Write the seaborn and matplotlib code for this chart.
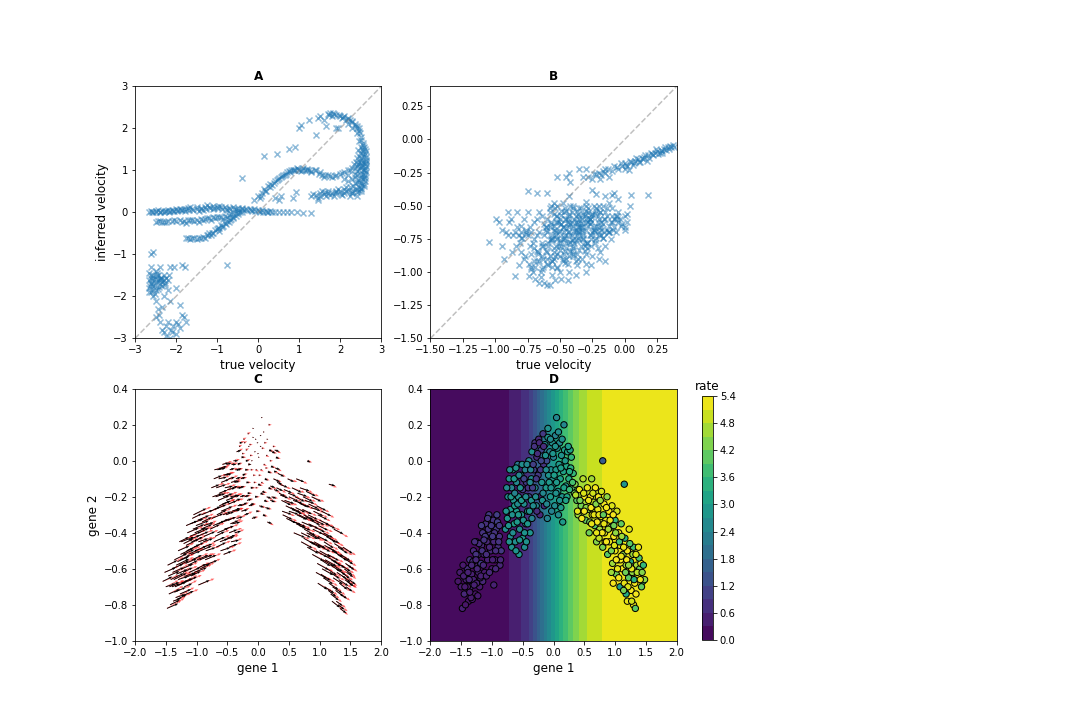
import numpy as np
import matplotlib.pyplot as plt
import seaborn as sns

# ---------------- Panel A: true vs inferred velocity ----------------
a_true = [
    # upper flat streak
    -2.65, -2.60, -2.55, -2.50, -2.45, -2.40, -2.35, -2.30, -2.25, -2.20,
    -2.15, -2.10, -2.05, -2.00, -1.95, -1.90, -1.85, -1.80, -1.75, -1.70,
    -1.60, -1.50, -1.40, -1.30, -1.25, -1.20, -1.10, -1.00, -0.95, -0.90,
    -0.80, -0.70, -0.60, -0.50, -0.40, -0.30, -0.20, -0.10, 0.00, 0.10,
    0.20, 0.30, 0.40, 0.50, 0.60, 0.70, 0.80, 0.95, 1.10, 1.30,
    -1.45, -1.35, -0.75, -0.55, -0.35, -0.15, 0.05, 0.25, -1.65, -1.10,
    -2.58, -2.48, -2.38, -2.28, -2.18, -2.08, -1.98, -1.88, -1.78, -1.68,
    -1.58, -1.48, -1.38, -1.28, -1.18, -1.08, -0.98, -0.88, -0.78, -0.68,
    -0.58, -0.48, -0.38, -0.28, -0.18, -0.08, 0.02, 0.12, 0.22, 0.35,
    # second streak
    -2.50, -2.40, -2.30, -2.20, -2.10, -2.00, -1.90, -1.80, -1.70, -1.60,
    -1.50, -1.40, -1.30, -1.20, -1.10, -1.00, -0.90, -0.80, -0.70, -0.60,
    -0.50, -0.40, -1.75, -1.45, -1.15, -0.85,
    -2.45, -2.25, -2.05, -1.85, -1.65, -1.55, -1.35, -1.25, -1.05, -0.95,
    -0.75, -0.65, -0.55, -0.45, -2.35,
    # third streak
    -1.75, -1.65, -1.55, -1.45, -1.35, -1.30, -1.25, -1.20, -1.10, -1.05,
    -1.00, -0.95, -0.90, -0.85, -0.80, -0.75, -0.70, -0.65, -0.60, -0.55,
    -1.15, -0.95,
    -1.70, -1.60, -1.50, -1.40, -1.22, -1.12, -0.98, -0.88, -0.78, -0.68,
    -0.62, -0.50,
    # rising branch
    -0.10, 0.00, 0.05, 0.10, 0.15, 0.20, 0.25, 0.30, 0.35, 0.40,
    0.45, 0.50, 0.55, 0.60, 0.65, 0.70, 0.75, 0.80, 0.85, 0.90,
    0.95, 1.00, 1.05, 1.10, 1.15, 1.20, 1.25, 1.30, 1.40, 1.50,
    1.55, 1.60, 1.70, 1.80, 1.90, 2.00, 2.10, 2.20, 2.30, 0.40,
    0.50, 0.85, 0.92, 0.55,
    0.08, 0.18, 0.28, 0.38, 0.48, 0.58, 0.68, 0.78, 0.88, 0.98,
    1.08, 1.18, 1.28, 1.38, 1.48, 1.62, 1.75, 1.88, 2.05, 2.25,
    # right cluster
    2.45, 2.50, 2.55, 2.60, 2.55, 2.60, 2.50, 2.60, 2.55, 2.62,
    2.50, 2.58, 2.55, 2.60, 2.50, 2.45, 2.40, 2.35, 2.40, 2.30,
    2.35, 2.20, 2.25, 2.40, 2.62, 2.64, 2.60, 2.50, 2.45, 2.55,
    2.40, 2.20, 2.10,
    2.58, 2.52, 2.62, 2.48, 2.56, 2.44, 2.60, 2.52, 2.38, 2.64,
    2.53, 2.57, 2.61, 2.47, 2.51, 2.55, 2.59, 2.63, 2.42, 2.36,
    2.49, 2.57, 2.53, 2.61, 2.45,
    2.32, 2.36, 2.42, 2.46, 2.52, 2.58, 2.34, 2.44, 2.54, 2.62,
    # lower right streak
    1.30, 1.40, 1.50, 1.60, 1.70, 1.80, 1.90, 2.00, 2.10, 2.20,
    2.30, 2.40, 2.50, 1.45, 1.65, 1.85, 2.05, 2.25, 1.55, 1.95,
    2.15, 1.45, 2.40,
    1.35, 1.52, 1.62, 1.75, 1.88, 2.02, 2.15, 2.28, 2.35, 2.45,
    1.70, 1.90, 2.10, 2.30, 2.50,
    # upper arch
    2.55, 2.50, 2.48, 2.45, 2.40, 2.35, 2.30, 2.25, 2.20, 2.15,
    2.10, 2.00, 1.90, 1.85, 1.80, 1.75, 1.70, 2.30, 2.40, 2.05,
    1.95, 2.20, 2.45,
    2.52, 2.47, 2.42, 2.28, 2.18, 2.08, 1.98, 1.82, 1.72, 2.35,
    # scattered
    1.00, 1.05, 1.25, 1.45, 1.40, 1.60, 1.65, 0.15, 0.45, 0.75,
    0.90, -0.40, -0.75, 1.50, 1.90,
    # lower left cluster
    -2.60, -2.55, -2.65, -2.60, -2.65, -2.60, -2.65, -2.60, -2.55, -2.50,
    -2.55, -2.50, -2.45, -2.40, -2.45, -2.40, -2.35, -2.30, -2.35, -2.30,
    -2.25, -2.20, -2.50, -2.60, -2.40, -2.15, -2.05, -1.85, -1.78, -2.55,
    -2.50, -2.45, -2.35, -2.50, -2.40, -2.35, -2.25, -2.15, -2.20, -2.10,
    -2.00, -2.00, -1.90, -1.85, -1.80, -1.75, -1.90, -2.00, -2.30, -2.25,
    -2.15, -2.65, -2.20,
    -2.62, -2.58, -2.52, -2.48, -2.42, -2.38, -2.62, -2.56, -2.46, -2.36,
    -2.28, -2.52,
    -2.63, -2.57, -2.47, -2.43, -2.33, -2.27, -2.18, -2.12, -1.95, -2.42,
    -2.30, -2.08,
]
a_inferred = [
    0.02, 0.04, 0.01, 0.03, 0.05, 0.02, 0.04, 0.01, 0.03, 0.05,
    0.03, 0.06, 0.04, 0.07, 0.05, 0.08, 0.06, 0.09, 0.07, 0.10,
    0.09, 0.12, 0.11, 0.14, 0.18, 0.12, 0.15, 0.13, 0.16, 0.12,
    0.14, 0.11, 0.12, 0.10, 0.11, 0.08, 0.09, 0.07, 0.06, 0.05,
    0.04, 0.03, 0.02, 0.02, 0.01, 0.00, 0.00, 0.00, -0.01, -0.01,
    0.04, 0.05, 0.06, 0.07, 0.05, 0.04, 0.02, 0.00, 0.12, 0.08,
    0.00, 0.02, 0.00, 0.03, 0.02, 0.04, 0.03, 0.05, 0.04, 0.06,
    0.05, 0.08, 0.07, 0.09, 0.10, 0.11, 0.10, 0.09, 0.08, 0.08,
    0.07, 0.06, 0.07, 0.05, 0.05, 0.04, 0.03, 0.02, 0.02, 0.01,
    -0.22, -0.20, -0.23, -0.20, -0.21, -0.20, -0.18, -0.20, -0.19, -0.17,
    -0.18, -0.16, -0.15, -0.14, -0.12, -0.12, -0.10, -0.08, -0.06, -0.03,
    0.00, 0.02, -0.25, -0.22, -0.18, -0.15,
    -0.20, -0.22, -0.18, -0.22, -0.18, -0.20, -0.17, -0.13, -0.14, -0.10,
    -0.10, -0.04, -0.02, 0.00, -0.24,
    -0.62, -0.63, -0.60, -0.62, -0.58, -0.60, -0.55, -0.50, -0.48, -0.42,
    -0.40, -0.36, -0.30, -0.32, -0.25, -0.20, -0.22, -0.15, -0.12, -0.08,
    -0.55, -0.45,
    -0.60, -0.62, -0.64, -0.60, -0.53, -0.50, -0.38, -0.34, -0.28, -0.18,
    -0.14, -0.04,
    0.30, 0.38, 0.35, 0.45, 0.55, 0.50, 0.62, 0.68, 0.65, 0.75,
    0.78, 0.82, 0.85, 0.90, 0.88, 0.95, 0.98, 1.00, 1.02, 1.00,
    1.05, 1.02, 0.98, 1.05, 1.00, 1.03, 1.00, 0.98, 1.02, 0.95,
    0.88, 0.85, 0.88, 0.85, 0.90, 0.92, 0.95, 1.00, 1.05, 0.35,
    0.30, 0.35, 0.48, 0.40,
    0.40, 0.52, 0.60, 0.70, 0.80, 0.86, 0.92, 0.96, 1.00, 1.03,
    1.00, 1.02, 0.97, 1.00, 0.92, 0.88, 0.86, 0.87, 0.93, 1.02,
    0.60, 0.70, 0.80, 0.90, 1.00, 1.05, 1.10, 1.15, 1.20, 1.25,
    1.30, 1.35, 1.45, 1.50, 1.55, 1.00, 1.10, 1.05, 0.90, 0.80,
    0.70, 0.75, 0.60, 0.55, 1.10, 0.95, 0.75, 0.90, 1.20, 1.60,
    1.30, 0.90, 0.80,
    1.02, 1.18, 1.32, 1.05, 0.92, 1.15, 1.40, 0.85, 1.20, 1.18,
    0.65, 0.85, 1.00, 0.78, 1.25, 1.38, 0.68, 1.22, 0.98, 0.92,
    1.42, 1.55, 1.12, 0.82, 0.72,
    0.62, 0.85, 0.72, 1.35, 0.55, 0.62, 1.15, 1.48, 1.52, 1.45,
    0.40, 0.42, 0.45, 0.43, 0.47, 0.45, 0.48, 0.50, 0.47, 0.50,
    0.52, 0.48, 0.50, 0.35, 0.38, 0.40, 0.42, 0.40, 0.52, 0.55,
    0.60, 0.30, 0.40,
    0.44, 0.40, 0.48, 0.42, 0.46, 0.44, 0.52, 0.46, 0.56, 0.52,
    0.52, 0.50, 0.55, 0.45, 0.58,
    1.65, 1.80, 1.90, 2.00, 2.05, 2.10, 2.15, 2.20, 2.25, 2.20,
    2.30, 2.30, 2.33, 2.35, 2.30, 2.37, 2.35, 2.00, 1.90, 2.25,
    2.00, 2.10, 1.70,
    1.72, 1.95, 2.02, 2.18, 2.22, 2.28, 2.32, 2.36, 2.32, 2.05,
    2.00, 2.08, 2.20, 2.25, 1.85, 2.20, 2.05, 1.35, 1.40, 1.52,
    1.55, 0.82, -1.25, 2.30, 2.00,
    -1.00, -0.95, -1.45, -1.50, -1.60, -1.70, -1.80, -1.90, -1.55, -1.65,
    -1.75, -1.85, -1.60, -1.70, -1.50, -1.55, -1.65, -1.60, -1.75, -1.50,
    -1.55, -1.60, -1.40, -1.30, -1.30, -1.30, -1.30, -1.25, -1.30, -2.00,
    -2.10, -2.30, -2.25, -2.50, -2.60, -2.80, -2.70, -2.10, -2.60, -2.85,
    -2.90, -2.60, -2.75, -2.45, -2.50, -2.60, -2.20, -1.80, -2.00, -2.95,
    -3.00, -1.90, -1.85,
    -1.55, -1.62, -1.72, -1.58, -1.78, -1.62, -1.68, -1.85, -1.45, -1.55,
    -1.68, -1.95,
    -1.75, -1.48, -1.52, -1.82, -1.58, -1.72, -1.48, -2.80, -2.65, -2.45,
    -2.85, -2.70,
]

# ---------------- Panel B: true vs inferred velocity ----------------
b_true = [
    # upper band
    -0.28, -0.25, -0.20, -0.18, -0.15, -0.12, -0.08, -0.05, -0.02, 0.00,
    0.02, 0.05, 0.08, 0.10, 0.12, 0.15, 0.18, 0.20, 0.22, 0.25,
    0.28, 0.30, 0.32, 0.35, 0.37, 0.38, 0.27, 0.13, -0.10, 0.00,
    0.06, 0.33, 0.24, -0.15,
    -0.22, -0.17, -0.13, -0.06, -0.03, 0.01, 0.04, 0.07, 0.09, 0.11,
    0.14, 0.16, 0.19, 0.21, 0.23, 0.26, 0.29, 0.31, 0.34, 0.36,
    -0.19, 0.03, 0.17, 0.29, -0.24,
    # scattered
    -0.45, -0.43, -0.42, -0.35, -0.32, -0.30, -0.52, -0.60, -0.68, -0.75,
    -0.43, -0.25, -0.22, -0.15, -0.10, -0.05, 0.05, 0.18, -0.08, -0.30,
    -0.55,
    # main cloud
    -1.05, -0.97, -0.95, -0.93, -0.90, -0.88, -0.87, -0.85, -0.83, -0.82,
    -0.80, -0.80, -0.78, -0.77, -0.76, -0.75, -0.74, -0.73, -0.72, -0.70,
    -0.70, -0.69, -0.68, -0.67, -0.66, -0.65, -0.64, -0.63, -0.62, -0.61,
    -0.60, -0.60, -0.59, -0.58, -0.57, -0.56, -0.55, -0.55, -0.54, -0.53,
    -0.52, -0.51, -0.50, -0.50, -0.49, -0.48, -0.47, -0.46, -0.45, -0.45,
    -0.44, -0.43, -0.42, -0.41, -0.40, -0.40, -0.39, -0.38, -0.37, -0.36,
    -0.35, -0.35, -0.34, -0.33, -0.32, -0.31, -0.30, -0.30, -0.29, -0.28,
    -0.27, -0.26, -0.25, -0.24, -0.23, -0.22, -0.21, -0.20, -0.19, -0.18,
    -0.17, -0.16, -0.15, -0.14, -0.12, -0.11, -0.10, -0.08, -0.07, -0.05,
    -0.03, 0.00, 0.02, 0.04, -0.62, -0.58, -0.53, -0.48, -0.43, -0.38,
    -0.33, -0.28, -0.46, -0.41, -0.36, -0.52, -0.56, -0.66, -0.70, -0.75,
    -0.80, -0.64, -0.60, -0.55, -0.50, -0.45, -0.40, -0.35, -0.30, -0.25,
    -0.20, -0.66, -0.60, -0.54, -0.50, -0.72, -0.82, -0.85, -0.90, -0.95,
    -0.99, -0.57, -0.48, -0.42, -0.30, -0.12, -0.20, -0.26, -0.15, -0.38,
    -0.44,
    -0.64, -0.61, -0.58, -0.56, -0.53, -0.51, -0.49, -0.47, -0.44, -0.42,
    -0.39, -0.37, -0.34, -0.32, -0.29, -0.27, -0.24, -0.22, -0.19, -0.17,
    -0.63, -0.60, -0.57, -0.54, -0.52, -0.49, -0.46, -0.43, -0.41, -0.38,
    -0.36, -0.33, -0.31, -0.28, -0.26, -0.23, -0.21, -0.18, -0.16, -0.13,
    -0.62, -0.59, -0.56, -0.53, -0.50, -0.47, -0.44, -0.41, -0.38, -0.35,
    -0.32, -0.29, -0.26, -0.23, -0.20, -0.17, -0.14, -0.11, -0.09, -0.06,
    -0.86, -0.83, -0.79, -0.76, -0.73, -0.71, -0.68, -0.84, -0.78, -0.72,
    -0.92, -0.89, -0.81, -0.74, -0.69, -0.66, -0.71, -0.68, -0.65, -0.63,
    -0.59, -0.56, -0.52, -0.48, -0.45, -0.42, -0.38, -0.35, -0.31, -0.27,
    -0.45, -0.40, -0.35, -0.30, -0.25, -0.20, -0.15, -0.10, -0.05, 0.00,
    -0.50, -0.44, -0.37, -0.33, -0.27, -0.22, -0.58, -0.52, -0.46, -0.40,
    -0.61, -0.55, -0.49, -0.43, -0.36, -0.32, -0.24, -0.18, -0.12, -0.07,
    # dense core
    -0.58, -0.55, -0.52, -0.49, -0.46, -0.43, -0.40, -0.37, -0.34, -0.31,
    -0.28, -0.25, -0.22, -0.19, -0.57, -0.54, -0.51, -0.48, -0.45, -0.42,
    -0.39, -0.36, -0.33, -0.30, -0.27, -0.24, -0.21, -0.18, -0.15, -0.56,
    -0.53, -0.50, -0.47, -0.44, -0.41, -0.38, -0.35, -0.32, -0.29, -0.26,
    -0.23, -0.20, -0.17, -0.14, -0.70, -0.67, -0.64, -0.61, -0.58, -0.55,
    -0.52, -0.49, -0.46, -0.43, -0.40, -0.37, -0.34, -0.31, -0.80, -0.76,
    -0.72, -0.68, -0.64, -0.60, -0.56, -0.52, -0.48, -0.44, -0.40, -0.36,
    -0.10, -0.06, -0.02, 0.02, -0.12, -0.08, -0.04, 0.00, -0.30, -0.26,
]
b_inferred = [
    -0.28, -0.30, -0.25, -0.27, -0.25, -0.28, -0.20, -0.22, -0.20, -0.18,
    -0.20, -0.17, -0.16, -0.15, -0.17, -0.13, -0.12, -0.10, -0.12, -0.09,
    -0.08, -0.07, -0.08, -0.05, -0.04, -0.06, -0.10, -0.14, -0.24, -0.22,
    -0.19, -0.06, -0.07, -0.22,
    -0.26, -0.24, -0.22, -0.21, -0.18, -0.19, -0.16, -0.18, -0.14, -0.17,
    -0.15, -0.12, -0.14, -0.11, -0.10, -0.11, -0.09, -0.06, -0.07, -0.06,
    -0.30, -0.23, -0.16, -0.10, -0.26,
    -0.28, -0.25, -0.32, -0.22, -0.28, -0.22, -0.28, -0.40, -0.40, -0.39,
    -0.43, -0.38, -0.41, -0.43, -0.42, -0.45, -0.42, -0.42, -0.40, -0.47,
    -0.48,
    -0.77, -0.62, -0.68, -0.90, -0.72, -0.60, -0.85, -0.70, -0.55, -0.72,
    -0.85, -0.65, -0.60, -0.88, -0.71, -0.55, -1.03, -0.80, -0.70, -0.62,
    -0.92, -1.05, -0.72, -0.85, -0.55, -1.00, -0.78, -0.90, -1.08, -0.68,
    -0.60, -0.85, -0.95, -1.10, -0.75, -1.02, -0.65, -0.90, -0.52, -0.80,
    -0.97, -0.70, -0.60, -0.88, -1.05, -0.75, -0.55, -0.93, -0.67, -0.82,
    -0.60, -1.00, -0.72, -0.55, -0.88, -0.65, -0.78, -0.58, -0.95, -0.70,
    -0.83, -0.52, -0.63, -0.90, -0.75, -0.58, -0.68, -1.00, -0.82, -0.55,
    -0.72, -0.62, -0.88, -0.50, -0.78, -0.65, -0.58, -0.72, -0.85, -0.62,
    -0.50, -0.70, -0.80, -0.58, -0.65, -0.75, -0.52, -0.60, -0.70, -0.55,
    -0.65, -0.58, -0.62, -0.50, -0.72, -0.66, -0.70, -0.66, -0.70, -0.68,
    -0.60, -0.65, -0.60, -0.62, -0.56, -0.62, -0.72, -0.70, -0.75, -0.72,
    -0.70, -0.88, -0.90, -0.85, -0.83, -0.90, -0.80, -0.76, -0.86, -0.70,
    -0.60, -1.08, -1.10, -1.06, -1.00, -0.98, -0.95, -1.03, -0.55, -0.80,
    -0.60, -0.50, -0.48, -0.50, -0.50, -0.48, -0.90, -0.95, -0.92, -1.02,
    -1.06,
    -0.58, -0.66, -0.55, -0.74, -0.62, -0.80, -0.57, -0.70, -0.64, -0.77,
    -0.60, -0.72, -0.66, -0.56, -0.78, -0.60, -0.66, -0.74, -0.55, -0.64,
    -0.80, -0.70, -0.62, -0.88, -0.75, -0.64, -0.72, -0.58, -0.84, -0.62,
    -0.74, -0.68, -0.80, -0.62, -0.58, -0.70, -0.82, -0.68, -0.60, -0.70,
    -0.64, -0.78, -0.92, -0.58, -0.69, -0.86, -0.62, -0.76, -0.70, -0.60,
    -0.72, -0.62, -0.75, -0.56, -0.66, -0.74, -0.52, -0.62, -0.68, -0.60,
    -0.72, -0.66, -0.74, -0.68, -0.66, -0.78, -0.60, -0.80, -0.90, -0.86,
    -0.70, -0.62, -0.78, -0.94, -0.96, -0.92, -1.00, -0.84, -1.04, -0.96,
    -0.80, -0.96, -0.74, -0.92, -0.78, -0.84, -0.92, -0.66, -0.78, -0.60,
    -0.54, -0.52, -0.58, -0.54, -0.56, -0.50, -0.55, -0.58, -0.62, -0.66,
    -0.76, -0.70, -0.64, -0.70, -0.60, -0.54, -0.76, -0.58, -0.74, -0.76,
    -0.66, -0.68, -0.64, -0.66, -0.66, -0.64, -0.68, -0.72, -0.70, -0.58,
    -0.52, -0.56, -0.50, -0.54, -0.52, -0.56, -0.50, -0.54, -0.52, -0.56,
    -0.52, -0.56, -0.52, -0.55, -0.64, -0.68, -0.62, -0.66, -0.60, -0.64,
    -0.68, -0.62, -0.66, -0.60, -0.64, -0.68, -0.62, -0.66, -0.60, -0.76,
    -0.72, -0.78, -0.74, -0.78, -0.72, -0.76, -0.70, -0.74, -0.78, -0.72,
    -0.76, -0.70, -0.74, -0.68, -0.82, -0.86, -0.80, -0.84, -0.88, -0.82,
    -0.86, -0.80, -0.84, -0.88, -0.82, -0.86, -0.80, -0.84, -0.74, -0.70,
    -0.96, -0.92, -0.98, -0.94, -0.92, -0.96, -0.90, -0.94, -0.86, -0.90,
    -0.62, -0.58, -0.64, -0.56, -0.70, -0.66, -0.60, -0.68, -0.94, -0.80,
]

# ---------------- Panels C / D: cells in gene space ----------------
gene1 = [
    # left branch
    -1.48, -1.55, -1.50, -1.45, -1.42, -1.40, -1.47, -1.38, -1.35, -1.33,
    -1.36, -1.30, -1.28, -1.30, -1.27, -1.25, -1.22, -1.22, -1.20, -1.18,
    -1.17, -1.15, -1.13, -1.12, -1.10, -1.08, -1.07, -1.05, -1.03, -1.02,
    -1.00, -0.98, -0.97, -0.95, -0.93, -0.92, -0.90, -0.88, -0.87, -0.85,
    -1.32, -1.25, -1.40, -1.15, -0.97,
    # middle cluster
    -0.78, -0.75, -0.74, -0.72, -0.70, -0.70, -0.68, -0.66, -0.65, -0.64,
    -0.62, -0.60, -0.60, -0.58, -0.57, -0.56, -0.55, -0.53, -0.52, -0.50,
    -0.50, -0.48, -0.46, -0.45, -0.44, -0.42, -0.40, -0.40, -0.38, -0.36,
    -0.35, -0.68, -0.63,
    # top
    -0.35, -0.32, -0.30, -0.30, -0.28, -0.27, -0.25, -0.24, -0.22, -0.22,
    -0.20, -0.19, -0.17, -0.16, -0.15, -0.14, -0.12, -0.11, -0.10, -0.09,
    -0.08, -0.06, -0.05, -0.04, -0.02, 0.00, 0.00, 0.02, 0.03, 0.04,
    0.05, 0.06, 0.07, 0.09, 0.10, 0.11, 0.13, 0.14, 0.16, 0.17,
    0.18, 0.20, 0.21, 0.23, 0.25, 0.27, 0.28, 0.30, 0.32, 0.15,
    -0.27,
    # right branch
    0.35, 0.38, 0.40, 0.42, 0.45, 0.48, 0.50, 0.52, 0.55, 0.56,
    0.58, 0.60, 0.62, 0.63, 0.65, 0.67, 0.68, 0.70, 0.72, 0.73,
    0.75, 0.77, 0.78, 0.80, 0.80, 0.82, 0.83, 0.85, 0.87, 0.88,
    0.90, 0.91, 0.93, 0.95, 0.96, 0.98, 1.00, 1.00, 1.02, 1.03,
    1.05, 1.06, 1.08, 1.08, 1.10, 1.12, 1.13, 1.15, 1.15, 1.16,
    1.18, 1.20, 1.20, 1.22, 1.23, 1.25, 1.26, 1.28, 1.30, 1.30,
    1.32, 1.33, 1.35, 1.37, 1.40, 1.42, 1.45, 1.48, 1.38, 0.97,
    # second batch: left branch
    -1.52, -1.46, -1.43, -1.37, -1.34, -1.31, -1.29, -1.26, -1.24, -1.21,
    -1.19, -1.16, -1.14, -1.11, -1.09, -1.06, -1.04, -1.01, -0.99, -0.96,
    -0.94, -0.91, -0.89, -0.86, -1.44, -1.39, -1.33, -1.28, -1.23, -1.18,
    -1.13, -1.09, -1.04, -0.99, -0.94, -1.36, -1.26, -1.17, -1.07, -0.88,
    # second batch: middle cluster
    -0.77, -0.76, -0.73, -0.71, -0.69, -0.67, -0.66, -0.64, -0.63, -0.61,
    -0.59, -0.58, -0.56, -0.55, -0.54, -0.52, -0.51, -0.49, -0.48, -0.47,
    -0.45, -0.43, -0.42, -0.41, -0.39, -0.37, -0.36, -0.34, -0.33, -0.72,
    -0.61, -0.57, -0.47, -0.44, -0.38,
    # second batch: top
    -0.33, -0.31, -0.29, -0.26, -0.23, -0.21, -0.18, -0.16, -0.13, -0.11,
    -0.09, -0.07, -0.05, -0.03, -0.01, 0.01, 0.03, 0.05, 0.08, 0.10,
    0.12, 0.14, 0.17, 0.19, 0.22, 0.24, 0.26, 0.29, 0.31, 0.34,
    -0.20, -0.12, -0.04, 0.04, 0.12, 0.20, -0.28, 0.08, -0.17, 0.26,
    # second batch: right branch
    0.36, 0.39, 0.43, 0.46, 0.49, 0.53, 0.57, 0.59, 0.61, 0.64,
    0.66, 0.69, 0.71, 0.74, 0.76, 0.79, 0.81, 0.84, 0.86, 0.89,
    0.92, 0.94, 0.97, 0.99, 1.01, 1.04, 1.07, 1.09, 1.11, 1.14,
    1.17, 1.19, 1.21, 1.24, 1.27, 1.29, 1.31, 1.34, 1.36, 1.39,
    1.41, 1.44, 1.46, 0.50, 0.62, 0.74, 0.86, 0.98, 1.10, 1.22,
    1.34, 1.18, 1.06, 0.94, 0.82, 1.27, 1.14, 1.02, 0.70, 1.43,
]
gene2 = [
    -0.82, -0.67, -0.70, -0.74, -0.66, -0.60, -0.58, -0.78, -0.70, -0.63,
    -0.55, -0.50, -0.58, -0.66, -0.74, -0.45, -0.52, -0.62, -0.70, -0.57,
    -0.47, -0.40, -0.52, -0.62, -0.35, -0.45, -0.55, -0.30, -0.40, -0.50,
    -0.60, -0.33, -0.45, -0.55, -0.38, -0.30, -0.48, -0.42, -0.58, -0.50,
    -0.77, -0.68, -0.70, -0.67, -0.69,
    -0.38, -0.32, -0.20, -0.10, -0.27, -0.42, -0.15, -0.05, -0.22, -0.35,
    -0.45, -0.12, -0.28, -0.02, -0.20, -0.52, -0.38, -0.08, -0.30, -0.16,
    -0.43, -0.24, -0.05, -0.35, -0.12, -0.28, -0.20, 0.00, -0.40, -0.10,
    -0.32, -0.48, -0.25,
    0.05, -0.05, 0.10, -0.15, -0.25, 0.02, -0.08, 0.12, -0.20, -0.30,
    0.06, -0.12, 0.15, -0.02, -0.25, 0.09, -0.15, 0.00, -0.32, 0.13,
    -0.08, 0.05, -0.20, -0.05, 0.10, -0.13, 0.02, -0.25, 0.14, -0.05,
    0.24, 0.07, -0.17, -0.02, 0.10, -0.10, 0.03, -0.20, -0.06, 0.20,
    0.06, -0.14, -0.03, 0.05, -0.10, 0.06, -0.04, -0.15, -0.07, -0.34,
    -0.28,
    -0.13, -0.22, -0.30, -0.16, -0.25, -0.10, -0.20, -0.33, -0.15, -0.27,
    -0.40, -0.20, -0.10, -0.30, -0.23, -0.36, -0.15, -0.45, -0.27, -0.20,
    -0.38, -0.31, -0.17, 0.00, -0.48, -0.24, -0.40, -0.33, -0.20, -0.52,
    -0.28, -0.45, -0.37, -0.25, -0.57, -0.42, -0.33, -0.50, -0.63, -0.28,
    -0.55, -0.40, -0.70, -0.47, -0.35, -0.60, -0.52, -0.13, -0.68, -0.43,
    -0.58, -0.78, -0.50, -0.65, -0.38, -0.56, -0.72, -0.62, -0.48, -0.80,
    -0.68, -0.82, -0.58, -0.64, -0.60, -0.57, -0.67, -0.66, -0.48, -0.68,
    -0.62, -0.64, -0.80, -0.66, -0.76, -0.56, -0.69, -0.52, -0.60, -0.46,
    -0.65, -0.50, -0.58, -0.42, -0.52, -0.38, -0.48, -0.36, -0.55, -0.40,
    -0.50, -0.34, -0.45, -0.55, -0.70, -0.62, -0.58, -0.45, -0.75, -0.64,
    -0.44, -0.64, -0.62, -0.42, -0.60, -0.73, -0.55, -0.36, -0.32, -0.36,
    -0.28, -0.15, -0.36, -0.05, -0.20, -0.30, -0.40, -0.10, -0.18, -0.04,
    -0.34, -0.24, -0.08, -0.44, -0.15, -0.22, -0.02, -0.33, -0.10, -0.40,
    -0.20, -0.02, -0.35, -0.15, -0.28, -0.05, -0.22, -0.15, -0.25, -0.45,
    -0.50, -0.30, -0.48, -0.45, -0.12,
    -0.02, 0.08, -0.20, 0.04, 0.10, -0.05, -0.22, 0.08, 0.03, -0.24,
    0.18, -0.12, 0.12, -0.28, 0.04, -0.08, 0.08, -0.12, 0.16, -0.22,
    -0.04, 0.12, -0.15, 0.00, -0.20, 0.08, -0.06, 0.02, -0.12, -0.18,
    0.00, -0.05, -0.15, -0.18, -0.26, -0.22, -0.10, -0.30, -0.18, -0.16,
    -0.19, -0.28, -0.22, -0.32, -0.18, -0.26, -0.22, -0.34, -0.26, -0.18,
    -0.30, -0.24, -0.34, -0.30, -0.22, -0.40, -0.30, -0.45, -0.26, -0.38,
    -0.33, -0.50, -0.30, -0.47, -0.40, -0.60, -0.45, -0.55, -0.42, -0.48,
    -0.62, -0.55, -0.70, -0.46, -0.60, -0.52, -0.66, -0.74, -0.62, -0.54,
    -0.66, -0.62, -0.58, -0.28, -0.35, -0.43, -0.45, -0.36, -0.53, -0.58,
    -0.52, -0.74, -0.65, -0.62, -0.35, -0.78, -0.72, -0.55, -0.40, -0.70,
]
cell_rate = [
    0.5, 0.3, 0.4, 0.6, 0.5, 0.7, 0.4, 0.3, 0.6, 0.5,
    0.8, 0.6, 0.4, 0.5, 0.3, 0.7, 0.6, 0.5, 0.4, 0.9,
    0.6, 0.8, 0.5, 0.4, 0.7, 0.6, 0.5, 0.9, 0.7, 0.6,
    0.4, 0.8, 0.6, 0.5, 0.9, 1.0, 0.7, 0.8, 0.6, 0.9,
    0.4, 0.5, 0.3, 0.6, 0.5,
    2.6, 2.8, 2.5, 2.7, 2.9, 2.6, 2.4, 2.8, 2.7, 3.0,
    2.6, 2.5, 2.9, 2.2, 2.7, 2.8, 2.6, 2.4, 2.7, 1.0,
    2.9, 2.6, 2.3, 2.8, 0.9, 2.7, 1.2, 2.5, 2.8, 2.6,
    2.4, 2.7, 2.9,
    2.7, 1.0, 0.8, 2.6, 2.5, 0.7, 0.9, 0.6, 0.5, 0.6,
    1.1, 2.8, 0.9, 0.8, 0.7, 2.6, 2.9, 1.2, 2.4, 2.7,
    2.8, 2.5, 2.9, 2.6, 2.7, 2.8, 2.3, 2.6, 2.4, 2.9,
    2.5, 2.7, 2.8, 2.9, 2.6, 3.0, 2.7, 2.8, 3.1, 2.5,
    3.0, 2.8, 3.2, 3.0, 3.3, 3.1, 3.4, 3.9, 3.6, 2.9,
    0.7,
    4.4, 4.0, 4.6, 5.2, 4.3, 4.8, 5.3, 4.1, 5.2, 4.5,
    4.2, 5.3, 4.6, 5.2, 4.9, 4.0, 5.3, 4.4, 5.2, 5.3,
    4.6, 5.2, 5.0, 1.5, 4.3, 5.3, 5.1, 5.2, 4.5, 4.0,
    5.3, 5.2, 4.4, 5.1, 4.6, 5.3, 3.6, 5.2, 4.2, 5.0,
    4.8, 5.3, 3.0, 5.2, 4.1, 5.3, 4.4, 2.8, 5.2, 3.5,
    4.6, 5.2, 5.3, 4.0, 5.1, 3.2, 5.3, 4.5, 3.8, 5.2,
    5.3, 4.0, 4.7, 5.2, 4.2, 5.3, 3.6, 4.5, 5.2, 5.3,
    0.4, 0.5, 0.3, 0.6, 0.4, 0.7, 0.5, 0.8, 0.6, 0.7,
    0.5, 0.8, 0.6, 0.9, 0.7, 0.8, 0.6, 0.9, 0.5, 0.8,
    0.7, 1.0, 0.8, 0.6, 0.4, 0.5, 0.6, 0.7, 0.4, 0.5,
    0.8, 0.5, 0.6, 0.9, 0.6, 0.4, 0.6, 0.9, 0.8, 0.9,
    2.7, 2.5, 2.8, 2.6, 2.9, 2.7, 2.6, 2.8, 2.4, 2.7,
    2.9, 2.6, 2.5, 2.8, 2.7, 2.9, 2.6, 2.7, 1.1, 2.8,
    2.6, 2.5, 2.9, 0.8, 2.7, 2.4, 2.8, 1.0, 2.6, 2.7,
    2.8, 2.9, 2.6, 2.7, 2.5,
    1.0, 0.8, 2.6, 0.7, 0.6, 0.9, 2.7, 0.7, 2.8, 2.5,
    2.7, 2.9, 2.6, 2.4, 2.8, 3.0, 2.7, 2.9, 2.6, 2.8,
    3.0, 2.7, 3.1, 2.9, 3.2, 3.0, 3.3, 3.5, 3.8, 4.2,
    1.1, 2.6, 2.8, 2.7, 2.9, 3.1, 0.9, 2.6, 2.5, 3.6,
    4.8, 5.2, 4.3, 5.3, 5.1, 4.5, 5.2, 4.2, 5.3, 5.0,
    5.2, 4.4, 5.3, 5.2, 4.6, 5.3, 4.1, 5.2, 5.3, 4.7,
    5.2, 4.3, 5.3, 5.1, 4.5, 5.2, 3.8, 5.3, 4.6, 5.2,
    4.2, 5.3, 5.1, 4.0, 5.2, 4.6, 3.4, 5.3, 4.8, 3.9,
    5.2, 4.4, 3.6, 5.3, 5.2, 4.9, 5.3, 4.2, 5.2, 4.5,
    5.1, 3.3, 5.3, 4.6, 5.2, 5.0, 4.3, 5.3, 5.2, 4.1,
]
# true velocity (red arrows)
true_u = [
    0.9, 1.0, 0.8, 0.9, 1.1, 0.9, 1.0, 0.8, 1.0, 0.9,
    1.1, 1.0, 0.9, 0.8, 0.9, 1.0, 1.1, 0.9, 0.8, 1.0,
    1.1, 1.0, 0.9, 1.0, 1.1, 0.9, 1.0, 1.1, 1.0, 0.9,
    0.8, 1.0, 0.9, 1.0, 0.9, 1.0, 0.8, 0.9, 1.0, 0.9,
    0.9, 1.0, 0.8, 0.9, 1.0,
    0.9, 1.0, 0.9, 0.8, 1.0, 0.9, 0.9, 0.7, 1.0, 0.9,
    0.8, 0.8, 1.0, 0.6, 0.9, 0.8, 0.9, 0.6, 0.8, 0.7,
    0.7, 0.8, 0.5, 0.7, 0.6, 0.7, 0.6, 0.4, 0.6, 0.5,
    0.6, 0.9, 1.0,
    0.4, 0.3, 0.3, 0.4, 0.5, 0.3, 0.3, 0.2, 0.4, 0.5,
    0.2, 0.3, 0.2, 0.2, 0.4, 0.2, 0.3, 0.1, 0.4, 0.1,
    0.2, 0.1, 0.3, 0.2, 0.1, 0.3, 0.1, 0.4, 0.1, 0.2,
    0.1, 0.2, 0.3, 0.2, 0.2, 0.3, 0.2, 0.4, 0.3, 0.2,
    0.3, 0.4, 0.3, 0.3, 0.5, 0.4, 0.4, 0.6, 0.5, 0.4,
    0.5,
    0.7, 0.8, 0.9, 0.7, 0.9, 0.6, 0.8, 1.0, 0.8, 0.9,
    1.0, 0.8, 0.7, 0.9, 0.8, 1.0, 0.8, 1.0, 0.9, 0.8,
    1.0, 0.9, 0.8, 0.3, 1.0, 0.9, 1.0, 0.9, 0.8, 1.0,
    0.9, 1.0, 0.9, 0.8, 1.0, 0.9, 0.9, 1.0, 0.9, 0.8,
    1.0, 0.9, 0.8, 1.0, 0.9, 0.9, 1.0, 0.5, 0.8, 0.9,
    0.9, 0.7, 1.0, 0.8, 0.9, 0.9, 0.7, 0.8, 0.9, 0.6,
    0.7, 0.5, 0.8, 0.7, 0.7, 0.6, 0.6, 0.5, 0.8, 0.9,
    0.9, 1.0, 0.9, 1.1, 0.8, 1.0, 0.9, 1.1, 1.0, 0.9,
    1.0, 1.1, 0.9, 1.0, 0.8, 1.0, 0.9, 1.1, 1.0, 0.9,
    1.0, 0.9, 0.8, 1.0, 0.9, 1.0, 1.1, 0.9, 1.0, 0.8,
    1.0, 0.9, 1.1, 1.0, 0.9, 1.0, 0.9, 1.0, 0.9, 0.8,
    0.9, 0.8, 1.0, 0.7, 0.9, 0.9, 1.0, 0.7, 0.8, 0.6,
    0.9, 0.8, 0.6, 0.9, 0.7, 0.8, 0.5, 0.8, 0.6, 0.8,
    0.7, 0.4, 0.7, 0.5, 0.6, 0.4, 0.5, 0.4, 0.5, 1.0,
    0.9, 0.8, 0.8, 0.7, 0.4,
    0.3, 0.2, 0.4, 0.2, 0.2, 0.3, 0.4, 0.1, 0.2, 0.3,
    0.1, 0.2, 0.1, 0.3, 0.1, 0.2, 0.1, 0.2, 0.1, 0.3,
    0.2, 0.1, 0.3, 0.2, 0.4, 0.2, 0.3, 0.3, 0.4, 0.5,
    0.3, 0.2, 0.2, 0.3, 0.4, 0.4, 0.4, 0.3, 0.3, 0.4,
    0.7, 0.8, 0.8, 0.9, 0.7, 0.9, 0.8, 1.0, 0.9, 0.8,
    0.9, 0.8, 1.0, 0.9, 0.8, 1.0, 0.9, 1.0, 0.8, 0.9,
    0.9, 1.0, 0.8, 1.0, 0.9, 1.0, 0.9, 1.0, 0.9, 0.9,
    0.9, 0.9, 0.8, 0.9, 0.8, 0.9, 0.8, 0.6, 0.7, 0.8,
    0.7, 0.6, 0.6, 0.8, 0.9, 1.0, 0.9, 0.9, 1.0, 0.9,
    0.8, 0.7, 0.9, 1.0, 0.9, 0.6, 0.7, 0.9, 0.9, 0.6,
]
true_v = [
    0.5, 0.4, 0.4, 0.5, 0.5, 0.4, 0.5, 0.3, 0.5, 0.4,
    0.5, 0.5, 0.4, 0.4, 0.4, 0.5, 0.5, 0.4, 0.4, 0.4,
    0.5, 0.4, 0.4, 0.5, 0.4, 0.4, 0.4, 0.5, 0.4, 0.4,
    0.4, 0.4, 0.3, 0.4, 0.4, 0.4, 0.3, 0.4, 0.4, 0.3,
    0.4, 0.5, 0.4, 0.4, 0.4,
    0.4, 0.4, 0.3, 0.3, 0.4, 0.4, 0.3, 0.2, 0.4, 0.4,
    0.3, 0.3, 0.4, 0.2, 0.3, 0.3, 0.3, 0.2, 0.3, 0.2,
    0.3, 0.3, 0.1, 0.3, 0.2, 0.2, 0.2, 0.1, 0.2, 0.1,
    0.2, 0.4, 0.4,
    0.2, 0.1, 0.1, 0.1, 0.2, 0.0, 0.1, 0.1, 0.1, 0.2,
    0.1, 0.0, 0.1, 0.0, 0.1, 0.0, 0.0, 0.0, 0.1, 0.0,
    0.0, 0.0, 0.0, -0.1, 0.0, -0.1, 0.0, -0.1, 0.0, -0.1,
    0.0, 0.0, -0.1, -0.1, 0.0, -0.1, -0.1, -0.2, -0.1, 0.0,
    -0.1, -0.2, -0.1, -0.1, -0.2, -0.2, -0.2, -0.3, -0.2, -0.2,
    0.2,
    -0.3, -0.3, -0.4, -0.3, -0.4, -0.2, -0.3, -0.4, -0.3, -0.4,
    -0.4, -0.3, -0.3, -0.4, -0.3, -0.4, -0.3, -0.5, -0.4, -0.3,
    -0.5, -0.4, -0.3, -0.1, -0.5, -0.4, -0.5, -0.4, -0.3, -0.5,
    -0.4, -0.5, -0.4, -0.4, -0.5, -0.5, -0.4, -0.5, -0.5, -0.4,
    -0.5, -0.5, -0.5, -0.5, -0.4, -0.5, -0.5, -0.2, -0.5, -0.5,
    -0.5, -0.5, -0.5, -0.5, -0.5, -0.5, -0.5, -0.5, -0.5, -0.4,
    -0.5, -0.4, -0.5, -0.5, -0.5, -0.4, -0.4, -0.4, -0.5, -0.5,
    0.4, 0.5, 0.4, 0.5, 0.4, 0.5, 0.4, 0.5, 0.4, 0.4,
    0.5, 0.5, 0.4, 0.4, 0.4, 0.4, 0.4, 0.5, 0.4, 0.4,
    0.4, 0.4, 0.3, 0.4, 0.4, 0.5, 0.5, 0.4, 0.4, 0.3,
    0.4, 0.4, 0.5, 0.4, 0.4, 0.4, 0.4, 0.4, 0.4, 0.3,
    0.4, 0.3, 0.4, 0.2, 0.3, 0.4, 0.4, 0.2, 0.3, 0.2,
    0.3, 0.3, 0.2, 0.3, 0.2, 0.3, 0.1, 0.3, 0.2, 0.3,
    0.2, 0.1, 0.2, 0.1, 0.2, 0.1, 0.1, 0.1, 0.1, 0.4,
    0.3, 0.3, 0.3, 0.2, 0.1,
    0.1, 0.1, 0.1, 0.0, 0.1, 0.0, 0.1, 0.0, 0.0, 0.0,
    0.0, 0.0, 0.0, 0.0, 0.0, 0.0, 0.0, -0.1, 0.0, -0.1,
    0.0, 0.0, -0.1, 0.0, -0.1, 0.0, -0.1, -0.1, -0.2, -0.2,
    0.1, 0.0, 0.0, -0.1, -0.1, -0.1, 0.1, -0.1, 0.0, -0.2,
    -0.3, -0.3, -0.3, -0.4, -0.3, -0.4, -0.3, -0.4, -0.4, -0.3,
    -0.4, -0.3, -0.4, -0.4, -0.3, -0.5, -0.4, -0.5, -0.3, -0.4,
    -0.4, -0.5, -0.4, -0.5, -0.4, -0.5, -0.5, -0.5, -0.5, -0.5,
    -0.5, -0.5, -0.5, -0.5, -0.5, -0.5, -0.5, -0.4, -0.5, -0.5,
    -0.5, -0.4, -0.4, -0.3, -0.4, -0.5, -0.4, -0.4, -0.5, -0.5,
    -0.5, -0.5, -0.5, -0.5, -0.4, -0.4, -0.5, -0.5, -0.4, -0.4,
]
# inferred velocity (black arrows)
inf_u = [
    0.7, 0.6, 0.6, 0.7, 0.8, 0.7, 0.6, 0.5, 0.7, 0.7,
    0.8, 0.7, 0.6, 0.6, 0.7, 0.8, 0.7, 0.6, 0.5, 0.7,
    0.8, 0.7, 0.6, 0.7, 0.8, 0.7, 0.6, 0.8, 0.7, 0.7,
    0.6, 0.7, 0.6, 0.8, 0.7, 0.7, 0.6, 0.7, 0.8, 0.6,
    0.6, 0.7, 0.5, 0.6, 0.7,
    0.6, 0.7, 0.6, 0.5, 0.7, 0.6, 0.6, 0.5, 0.7, 0.6,
    0.5, 0.5, 0.7, 0.4, 0.6, 0.5, 0.6, 0.4, 0.5, 0.5,
    0.5, 0.5, 0.3, 0.5, 0.4, 0.5, 0.4, 0.3, 0.4, 0.3,
    0.4, 0.6, 0.7,
    0.3, 0.2, 0.2, 0.3, 0.4, 0.2, 0.2, 0.1, 0.3, 0.3,
    0.1, 0.2, 0.1, 0.2, 0.3, 0.1, 0.2, 0.1, 0.3, 0.1,
    0.1, 0.1, 0.2, 0.1, 0.1, 0.2, 0.1, 0.3, 0.1, 0.1,
    0.1, 0.1, 0.2, 0.1, 0.1, 0.2, 0.1, 0.3, 0.2, 0.1,
    0.2, 0.3, 0.2, 0.2, 0.4, 0.3, 0.3, 0.4, 0.4, 0.3,
    0.4,
    0.5, 0.6, 0.6, 0.5, 0.6, 0.4, 0.6, 0.7, 0.6, 0.6,
    0.7, 0.6, 0.5, 0.6, 0.6, 0.7, 0.6, 0.7, 0.6, 0.6,
    0.7, 0.6, 0.6, 0.2, 0.7, 0.6, 0.7, 0.6, 0.6, 0.7,
    0.6, 0.7, 0.6, 0.6, 0.7, 0.6, 0.6, 0.7, 0.6, 0.6,
    0.7, 0.6, 0.6, 0.7, 0.6, 0.6, 0.7, 0.4, 0.6, 0.6,
    0.6, 0.5, 0.7, 0.6, 0.6, 0.6, 0.5, 0.6, 0.6, 0.4,
    0.5, 0.4, 0.6, 0.5, 0.5, 0.4, 0.4, 0.4, 0.6, 0.6,
    0.7, 0.7, 0.6, 0.8, 0.6, 0.7, 0.6, 0.8, 0.7, 0.6,
    0.7, 0.8, 0.6, 0.7, 0.6, 0.7, 0.6, 0.8, 0.7, 0.6,
    0.7, 0.6, 0.6, 0.7, 0.6, 0.7, 0.8, 0.6, 0.7, 0.6,
    0.7, 0.6, 0.8, 0.7, 0.6, 0.7, 0.6, 0.7, 0.6, 0.6,
    0.6, 0.5, 0.7, 0.5, 0.6, 0.6, 0.7, 0.5, 0.5, 0.4,
    0.6, 0.5, 0.4, 0.6, 0.5, 0.5, 0.3, 0.5, 0.4, 0.5,
    0.5, 0.3, 0.5, 0.3, 0.4, 0.3, 0.3, 0.3, 0.3, 0.7,
    0.6, 0.5, 0.5, 0.5, 0.3,
    0.2, 0.1, 0.3, 0.1, 0.1, 0.2, 0.3, 0.1, 0.1, 0.2,
    0.1, 0.1, 0.1, 0.2, 0.1, 0.1, 0.1, 0.1, 0.1, 0.2,
    0.1, 0.1, 0.2, 0.1, 0.3, 0.1, 0.2, 0.2, 0.3, 0.4,
    0.2, 0.1, 0.1, 0.2, 0.3, 0.3, 0.3, 0.2, 0.2, 0.3,
    0.5, 0.6, 0.6, 0.6, 0.5, 0.6, 0.6, 0.7, 0.6, 0.6,
    0.6, 0.6, 0.7, 0.6, 0.6, 0.7, 0.6, 0.7, 0.6, 0.6,
    0.6, 0.7, 0.6, 0.7, 0.6, 0.7, 0.6, 0.7, 0.6, 0.6,
    0.6, 0.6, 0.6, 0.6, 0.6, 0.6, 0.6, 0.4, 0.5, 0.6,
    0.5, 0.4, 0.4, 0.6, 0.6, 0.7, 0.6, 0.6, 0.7, 0.6,
    0.6, 0.5, 0.6, 0.7, 0.6, 0.4, 0.5, 0.6, 0.6, 0.4,
]
inf_v = [
    0.3, 0.3, 0.2, 0.3, 0.4, 0.3, 0.3, 0.2, 0.3, 0.3,
    0.4, 0.3, 0.3, 0.2, 0.3, 0.3, 0.3, 0.3, 0.2, 0.3,
    0.4, 0.3, 0.3, 0.3, 0.3, 0.3, 0.3, 0.4, 0.3, 0.3,
    0.3, 0.3, 0.2, 0.3, 0.3, 0.3, 0.2, 0.3, 0.3, 0.2,
    0.3, 0.3, 0.2, 0.3, 0.3,
    0.3, 0.3, 0.2, 0.2, 0.3, 0.3, 0.2, 0.1, 0.3, 0.3,
    0.2, 0.2, 0.3, 0.1, 0.2, 0.2, 0.2, 0.1, 0.2, 0.1,
    0.2, 0.2, 0.1, 0.2, 0.1, 0.2, 0.1, 0.0, 0.1, 0.1,
    0.1, 0.3, 0.3,
    0.1, 0.1, 0.0, 0.1, 0.2, 0.0, 0.1, 0.0, 0.1, 0.1,
    0.0, 0.0, 0.0, 0.0, 0.1, 0.0, 0.0, 0.0, 0.1, 0.0,
    0.0, 0.0, 0.0, 0.0, 0.0, -0.1, 0.0, -0.1, 0.0, 0.0,
    0.0, 0.0, -0.1, 0.0, 0.0, -0.1, 0.0, -0.1, -0.1, 0.0,
    -0.1, -0.1, -0.1, -0.1, -0.2, -0.1, -0.1, -0.2, -0.2, -0.1,
    0.1,
    -0.2, -0.3, -0.3, -0.2, -0.3, -0.2, -0.3, -0.3, -0.3, -0.3,
    -0.3, -0.3, -0.2, -0.3, -0.3, -0.3, -0.2, -0.4, -0.3, -0.3,
    -0.4, -0.3, -0.3, -0.1, -0.4, -0.3, -0.4, -0.3, -0.3, -0.4,
    -0.3, -0.4, -0.3, -0.3, -0.4, -0.3, -0.3, -0.4, -0.4, -0.3,
    -0.4, -0.3, -0.4, -0.4, -0.3, -0.4, -0.4, -0.1, -0.4, -0.3,
    -0.4, -0.4, -0.4, -0.4, -0.3, -0.4, -0.4, -0.4, -0.4, -0.3,
    -0.4, -0.3, -0.4, -0.4, -0.4, -0.3, -0.3, -0.3, -0.4, -0.4,
    0.3, 0.3, 0.3, 0.4, 0.2, 0.3, 0.3, 0.4, 0.3, 0.3,
    0.3, 0.4, 0.3, 0.3, 0.2, 0.3, 0.3, 0.3, 0.3, 0.3,
    0.3, 0.3, 0.2, 0.3, 0.3, 0.3, 0.4, 0.3, 0.3, 0.2,
    0.3, 0.3, 0.3, 0.3, 0.3, 0.3, 0.3, 0.3, 0.3, 0.2,
    0.3, 0.2, 0.3, 0.1, 0.2, 0.3, 0.3, 0.1, 0.2, 0.1,
    0.2, 0.2, 0.1, 0.2, 0.1, 0.2, 0.1, 0.2, 0.1, 0.2,
    0.1, 0.0, 0.1, 0.1, 0.1, 0.0, 0.1, 0.0, 0.1, 0.3,
    0.2, 0.2, 0.2, 0.1, 0.1,
    0.1, 0.0, 0.1, 0.0, 0.0, 0.0, 0.1, 0.0, 0.0, 0.0,
    0.0, 0.0, 0.0, 0.0, 0.0, 0.0, 0.0, 0.0, 0.0, -0.1,
    0.0, 0.0, -0.1, 0.0, -0.1, 0.0, 0.0, -0.1, -0.1, -0.2,
    0.0, 0.0, 0.0, -0.1, -0.1, -0.1, 0.1, -0.1, 0.0, -0.1,
    -0.2, -0.2, -0.2, -0.3, -0.2, -0.3, -0.2, -0.3, -0.3, -0.2,
    -0.3, -0.2, -0.3, -0.3, -0.2, -0.4, -0.3, -0.4, -0.2, -0.3,
    -0.3, -0.4, -0.3, -0.4, -0.3, -0.4, -0.4, -0.4, -0.4, -0.4,
    -0.4, -0.4, -0.4, -0.4, -0.4, -0.4, -0.4, -0.3, -0.4, -0.4,
    -0.4, -0.3, -0.3, -0.2, -0.3, -0.4, -0.3, -0.3, -0.4, -0.4,
    -0.4, -0.4, -0.4, -0.4, -0.3, -0.3, -0.4, -0.4, -0.3, -0.3,
]

# background rate along gene 1
profile_gene1 = [-2.0, -0.85, -0.72, -0.52, -0.40, -0.30, -0.20, -0.10,
                 0.0, 0.10, 0.20, 0.32, 0.42, 0.55, 0.78, 2.0]
profile_rate = [0.0, 0.25, 0.3, 0.6, 0.9, 1.35, 1.9, 2.4,
                2.9, 3.35, 3.8, 4.2, 4.5, 4.8, 5.1, 5.4]
profile_gene2 = [-1.0, 0.4]
rate_ticks = [0.0, 0.6, 1.2, 1.8, 2.4, 3.0, 3.6, 4.2, 4.8, 5.4]

# ---------------- figure ----------------
fig = plt.figure(figsize=(15, 10), dpi=72)
ax_a = fig.add_subplot(2, 3, 1)
ax_b = fig.add_subplot(2, 3, 2)
ax_c = fig.add_subplot(2, 3, 4)
ax_d = fig.add_subplot(2, 3, 5)

# A
sns.scatterplot(x=a_true, y=a_inferred, marker="x", color="C0", alpha=0.5,
                s=36, linewidth=1.5, ax=ax_a)
ax_a.plot([-3, 3], [-3, 3], "--", color="gray", alpha=0.5)
ax_a.set_xlim(-3, 3)
ax_a.set_ylim(-3, 3)
ax_a.set_title("A", fontweight="bold")
ax_a.set_xlabel("true velocity", fontsize=12)
ax_a.set_ylabel("inferred velocity", fontsize=12)

# B
sns.scatterplot(x=b_true, y=b_inferred, marker="x", color="C0", alpha=0.5,
                s=36, linewidth=1.5, ax=ax_b)
ax_b.plot([-1.5, 0.4], [-1.5, 0.4], "--", color="gray", alpha=0.5)
ax_b.set_xlim(-1.5, 0.4)
ax_b.set_ylim(-1.5, 0.4)
ax_b.set_title("B", fontweight="bold")
ax_b.set_xlabel("true velocity", fontsize=12)

# C - velocity arrows
quiver_kw = dict(angles="uv", scale_units="inches", scale=4.5, width=0.0035,
                 headwidth=3, headlength=4, headaxislength=3.5)
ax_c.quiver(gene1, gene2, true_u, true_v, color="red", alpha=0.6, **quiver_kw)
ax_c.quiver(gene1, gene2, inf_u, inf_v, color="black", **quiver_kw)
ax_c.set_xlim(-2, 2)
ax_c.set_ylim(-1, 0.4)
ax_c.set_title("C", fontweight="bold")
ax_c.set_xlabel("gene 1", fontsize=12)
ax_c.set_ylabel("gene 2", fontsize=12)

# D - rate landscape
cs = ax_d.contourf(profile_gene1, profile_gene2, [profile_rate, profile_rate],
                   levels=np.linspace(0, 5.4, 19), cmap="viridis")
sns.scatterplot(x=gene1, y=gene2, hue=cell_rate, palette="viridis",
                hue_norm=(0, 5.4), s=40, edgecolor="black", linewidth=1,
                legend=False, ax=ax_d)
ax_d.set_xlim(-2, 2)
ax_d.set_ylim(-1, 0.4)
ax_d.set_title("D", fontweight="bold")
ax_d.set_xlabel("gene 1", fontsize=12)

cax = fig.add_axes([0.6497, 0.1111, 0.0102, 0.3389])
cbar = fig.colorbar(cs, cax=cax, ticks=rate_ticks)
cbar.ax.set_title("rate")

fig.savefig("out.png", dpi=72)
